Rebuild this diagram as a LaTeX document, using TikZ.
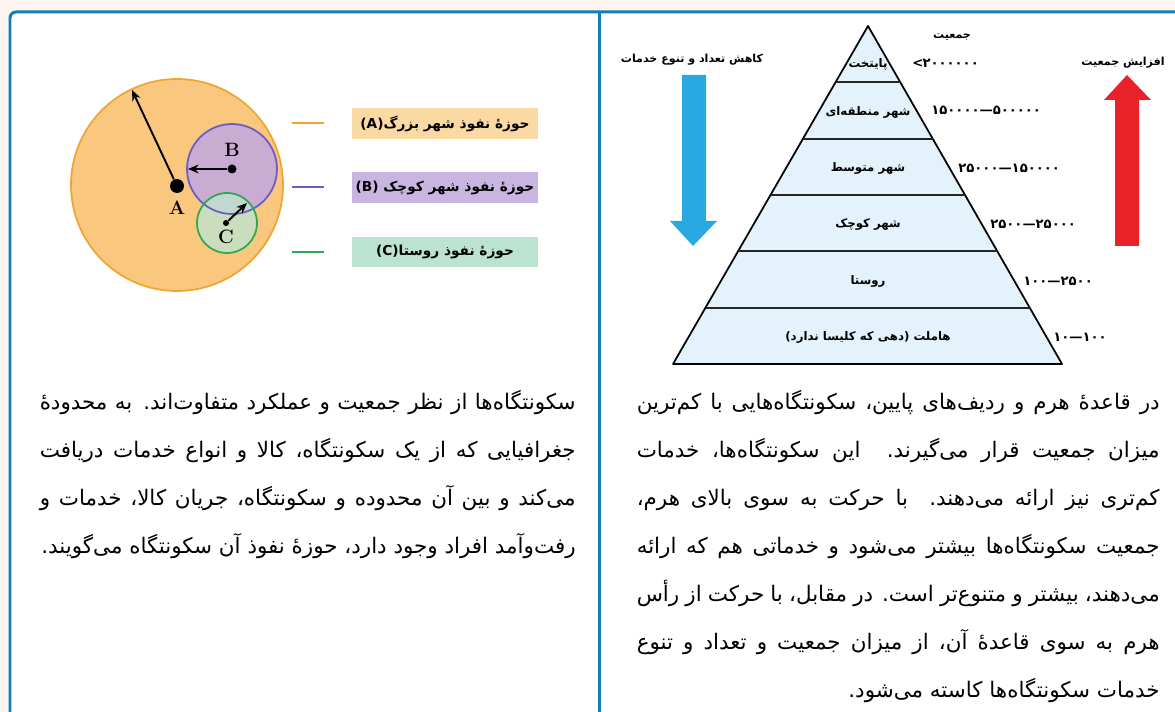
\documentclass[tikz,border=0pt]{standalone}
\usepackage{fontspec}
\usepackage{tikz}
\usetikzlibrary{calc,arrows.meta}
\TeXXeTstate=1
\newfontfamily\farsi[Script=Arabic]{DejaVu Sans}

\definecolor{pagebg}{HTML}{FDF3EF}
\definecolor{framecol}{HTML}{0E80B6}
\definecolor{fillA}{HTML}{F9C87E}
\definecolor{lineA}{HTML}{EFA534}
\definecolor{boxA}{HTML}{FBD9A3}
\definecolor{fillB}{HTML}{C3AADC}
\definecolor{lineB}{HTML}{6D5BC4}
\definecolor{boxB}{HTML}{C9B6E0}
\definecolor{fillC}{HTML}{BFE4CF}
\definecolor{lineC}{HTML}{2FA850}
\definecolor{boxC}{HTML}{BCE3D2}
\definecolor{tierfill}{HTML}{E3F2FB}
\definecolor{downblue}{HTML}{29A9E1}
\definecolor{upred}{HTML}{E9222A}

\newcommand{\range}[2]{#1\kern0pt—\kern0pt#2}

\tikzset{
  para/.style={inner sep=0pt, anchor=base east, font=\farsi\fontsize{12.2}{14}\selectfont},
  full/.style={para, execute at begin node={\hbox to #1\bgroup}, execute at end node={\egroup}},
  tier/.style={inner sep=0pt, font=\farsi\bfseries\fontsize{6.7}{8}\selectfont},
  caption/.style={inner sep=0pt, font=\farsi\bfseries\fontsize{6.3}{8}\selectfont},
  pop/.style={inner sep=0pt, anchor=west, font=\farsi\bfseries\fontsize{7.5}{9}\selectfont},
  zone/.style={minimum width=3.74cm, minimum height=0.62cm, inner sep=0pt, font=\farsi\bfseries\fontsize{7.8}{10}\selectfont},
  letter/.style={inner sep=0pt, font=\bfseries\fontsize{11}{13}\selectfont},
  dot/.style={circle, fill=black, inner sep=0pt},
  reach/.style={-{Stealth[length=6pt,width=5pt]}, line width=1.1pt},
}

\begin{document}
\begin{tikzpicture}[x=0.02cm, y=-0.02cm]
    \useasboundingbox (0,0) rectangle (1175,712);
    \fill[pagebg] (0,0) rectangle (1175,712);
    \fill[white, rounded corners=0.12cm] (10,12) rectangle (1185,722);
    \draw[framecol, line width=1.7pt, rounded corners=0.12cm] (10,720) -- (10,12) -- (1185,12);
    \draw[framecol, line width=1.7pt] (599,12) -- (599,712);

    % influence zones
    \fill[fillA] (177,185) circle[radius=2.12cm];
    \draw[lineA, line width=1pt] (177,185) circle[radius=2.12cm];
    \fill[fillB, opacity=0.9] (232,169) circle[radius=0.9cm];
    \fill[fillC, opacity=0.8] (227,223) circle[radius=0.6cm];
    \draw[lineB, line width=1pt] (232,169) circle[radius=0.9cm];
    \draw[lineC, line width=1pt] (227,223) circle[radius=0.6cm];

    \node[dot, minimum size=0.28cm] (A) at (177,186) {};
    \node[dot, minimum size=0.18cm] (B) at (232,169) {};
    \node[dot, minimum size=0.12cm] (C) at (226,223) {};
    \coordinate (tipA) at (132,90);
    \coordinate (tipB) at (188,169);
    \coordinate (tipC) at (247,203);
    \draw[reach] (A) -- (tipA);
    \draw[reach] (B) -- (tipB);
    \draw[reach] (C) -- (tipC);
    \node[letter] (labA) at (177,208) {A};
    \node[letter] (labB) at (232,150) {B};
    \node[letter] (labC) at (226,237) {C};

    \draw[lineA, line width=1.2pt] (292,123) -- (324,123);
    \draw[lineB, line width=1.2pt] (292,187) -- (324,187);
    \draw[lineC, line width=1.2pt] (292,252) -- (324,252);
    \node[zone, fill=boxA] (keyA) at (445,124) {(A)\beginR حوزهٔ نفوذ شهر بزرگ\endR};
    \node[zone, fill=boxB] (keyB) at (445,188) {(B) \beginR حوزهٔ نفوذ شهر کوچک\endR};
    \node[zone, fill=boxC] (keyC) at (445,252) {(C)\beginR حوزهٔ نفوذ روستا\endR};

    % settlement pyramid
    \coordinate (apex) at (868,26);
    \coordinate (bl) at (673,364);
    \coordinate (br) at (1062,364);
    \filldraw[fill=tierfill, draw=black, line width=1pt, line join=round] (bl) -- (apex) -- (br) -- cycle;
    \foreach \k in {1,...,5}
        \draw[line width=1pt, black!85] ($(apex)!\k/6!(bl)$) -- ($(apex)!\k/6!(br)$);

    \node[tier] (t1) at (868,64) {پایتخت};
    \node[tier] (t2) at (868,112) {\beginR شهر منطقه‌ای\endR};
    \node[tier] (t3) at (868,168) {\beginR شهر متوسط\endR};
    \node[tier] (t4) at (868,224) {\beginR شهر کوچک\endR};
    \node[tier] (t5) at (868,281) {روستا};
    \node[tier] (t6) at (868,337) {\beginR هاملت (دهی که کلیسا ندارد)\endR};

    \node[caption] (poplbl) at (952,37) {جمعیت};
    \node[pop] (p1) at (912,63) {>\kern-0.5pt۲۰۰۰۰۰۰};
    \node[pop] (p2) at (931,110) {\range{۱۵۰۰۰۰}{۵۰۰۰۰۰}};
    \node[pop] (p3) at (958,168) {\range{۲۵۰۰۰}{۱۵۰۰۰۰}};
    \node[pop] (p4) at (990,224) {\range{۲۵۰۰}{۲۵۰۰۰}};
    \node[pop] (p5) at (1023,281) {\range{۱۰۰}{۲۵۰۰}};
    \node[pop] (p6) at (1053,337) {\range{۱۰}{۱۰۰}};

    \fill[downblue] (682,75) -- (706,75) -- (706,221) -- (717,221) -- (693,246) -- (670,221) -- (682,221) -- cycle;
    \fill[upred] (1115,246) -- (1139,246) -- (1139,100) -- (1151,100) -- (1127,75) -- (1104,100) -- (1115,100) -- cycle;
    \node[caption] (downlbl) at (692,60) {\beginR کاهش تعداد و تنوع خدمات\endR};
    \node[caption] (uplbl) at (1123,63) {\beginR افزایش جمعیت\endR};

    % text, right column
    \node[full=10.46cm] (r1) at (1160,409) {\beginR در قاعدهٔ هرم و ردیف‌های پایین، سکونتگاه‌هایی با کم‌ترین\endR};
    \node[full=10.46cm] (r2) at (1160,457) {\beginR میزان جمعیت قرار می‌گیرند. این سکونتگاه‌ها، خدمات\endR};
    \node[full=10.46cm] (r3) at (1160,505) {\beginR کم‌تری نیز ارائه می‌دهند. با حرکت به سوی بالای هرم،\endR};
    \node[full=10.46cm] (r4) at (1160,553) {\beginR جمعیت سکونتگاه‌ها بیشتر می‌شود و خدماتی هم که ارائه\endR};
    \node[full=10.46cm] (r5) at (1160,601) {\beginR می‌دهند، بیشتر و متنوع‌تر است. در مقابل، با حرکت از رأس\endR};
    \node[full=10.46cm] (r6) at (1160,649) {\beginR هرم به سوی قاعدهٔ آن، از میزان جمعیت و تعداد و تنوع\endR};
    \node[para] (r7) at (1160,697) {\beginR خدمات سکونتگاه‌ها کاسته می‌شود.\endR};

    % text, left column
    \node[full=10.72cm] (l1) at (576,409) {\beginR سکونتگاه‌ها از نظر جمعیت و عملکرد متفاوت‌اند. به محدودهٔ\endR};
    \node[full=10.72cm] (l2) at (576,457) {\beginR جغرافیایی که از یک سکونتگاه، کالا و انواع خدمات دریافت\endR};
    \node[full=10.72cm] (l3) at (576,505) {\beginR می‌کند و بین آن محدوده و سکونتگاه، جریان کالا، خدمات و\endR};
    \node[para] (l4) at (576,553) {\beginR رفت‌وآمد افراد وجود دارد، حوزهٔ نفوذ آن سکونتگاه می‌گویند.\endR};
\end{tikzpicture}
\end{document}
